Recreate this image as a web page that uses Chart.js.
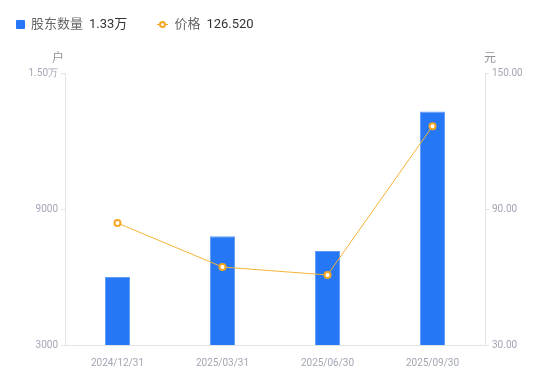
<!DOCTYPE html>
<html><head><meta charset="utf-8">
<script src="https://cdn.jsdelivr.net/npm/chart.js@4"></script>
<style>
html,body{margin:0;padding:0;background:#fff;}
#wrap{position:relative;width:550px;height:381px;font-family:Roboto,"Noto Sans CJK SC",sans-serif;}
#legend{position:absolute;left:16px;top:16px;font-size:13px;line-height:16px;display:flex;align-items:center;}
.sq{display:inline-block;width:9px;height:9px;background:#2677F5;border-radius:1px;margin-right:6px;}
.lbl{color:#666;margin-right:6px;}
.val{color:#333;}
.lm{display:inline-block;position:relative;width:11px;height:9px;margin-right:6px;}
.lm:before{content:"";position:absolute;left:0;right:0;top:4px;height:1px;background:#F5A623;}
.lm:after{content:"";position:absolute;left:2px;top:1px;width:3px;height:3px;border:2px solid #F5A623;border-radius:50%;background:#fff;}
canvas{position:absolute;left:0;top:0;}
</style></head>
<body><div id="wrap"><canvas id="c" width="550" height="381"></canvas>
<div id="legend"><span class="sq"></span><span class="lbl">股东数量</span><span class="val" id="v1"></span><span style="width:30px;display:inline-block"></span><span class="lm"></span><span class="lbl">价格</span><span class="val" id="v2"></span></div>
</div>
<script>
const categories = ["2024/12/31","2025/03/31","2025/06/30","2025/09/30"];
const holders = [6000, 7800, 7150, 13300];
const prices = [83.8, 64.4, 60.9, 126.52];
const leftTicks = [3000, 9000, 15000];
const rightTicks = [30, 90, 150];

document.getElementById('v1').textContent = (holders[holders.length-1]/10000).toFixed(2)+'万';
document.getElementById('v2').textContent = prices[prices.length-1].toFixed(3);

const tickColor = '#A3A6B4';
const lineColor = '#E3E4E8';

const unitPlugin = {
  id:'units',
  afterDraw(chart){
    const ctx = chart.ctx, a = chart.chartArea;
    ctx.save();
    ctx.fillStyle = '#909399';
    ctx.font = '12px "Noto Sans CJK SC", sans-serif';
    ctx.textAlign='center'; ctx.textBaseline='middle';
    ctx.fillText('户', a.left-7, a.top-16);
    ctx.fillText('元', a.right+5, a.top-16);
    ctx.restore();
  }
};

new Chart(document.getElementById('c'), {
  data:{
    labels: categories,
    datasets:[
      {type:'line', label:'价格', data:prices, yAxisID:'y1', borderColor:'#F5B335', borderWidth:1,
       pointRadius:3, pointBorderWidth:2, pointBackgroundColor:'#fff', pointBorderColor:'#F5A623', tension:0, order:0},
      {type:'bar', label:'股东数量', data:holders, yAxisID:'y', backgroundColor:'#2677F5',
       borderColor:'#5E9BF7', borderWidth:{top:1,left:1,right:1,bottom:0}, categoryPercentage:1, barPercentage:0.24, order:1}
    ]
  },
  options:{
    responsive:false, animation:false,
    layout:{padding:{top:73,left:0,right:0,bottom:0}},
    plugins:{legend:{display:false}, tooltip:{enabled:false}},
    scales:{
      x:{
        grid:{display:false},
        border:{display:true,color:lineColor},
        ticks:{color:tickColor,font:{size:10,family:'Roboto'},padding:4,maxRotation:0},
        afterFit(s){s.height=36;}
      },
      y:{
        position:'left', min:3000, max:15000,
        afterBuildTicks(s){s.ticks = leftTicks.map(v=>({value:v}));},
        grid:{drawOnChartArea:false, drawTicks:true, tickLength:4, color:lineColor},
        border:{display:true,color:lineColor},
        ticks:{color:tickColor,font:{size:10,family:'Roboto'},padding:3,
          callback:v=> v>=10000 ? (v/10000).toFixed(2)+'万' : String(v)},
        afterFit(s){s.width=65;}
      },
      y1:{
        position:'right', min:30, max:150,
        afterBuildTicks(s){s.ticks = rightTicks.map(v=>({value:v}));},
        grid:{drawOnChartArea:false, drawTicks:true, tickLength:4, color:lineColor},
        border:{display:true,color:lineColor},
        ticks:{color:tickColor,font:{size:10,family:'Roboto'},padding:3,
          callback:v=> Number(v).toFixed(2)},
        afterFit(s){s.width=65;}
      }
    }
  },
  plugins:[unitPlugin]
});
</script></body></html>
